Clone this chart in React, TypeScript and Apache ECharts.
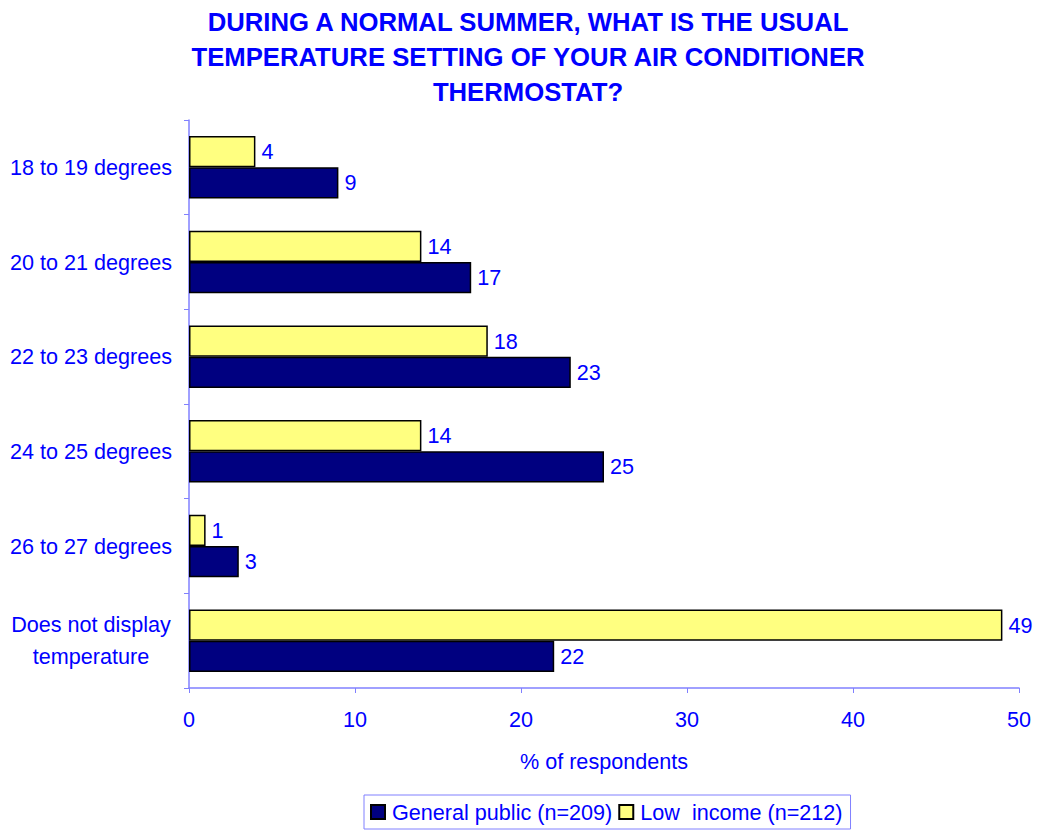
import React, { useEffect, useRef } from "react";
import * as echarts from "echarts";

const categories = [
  "18 to 19 degrees",
  "20 to 21 degrees",
  "22 to 23 degrees",
  "24 to 25 degrees",
  "26 to 27 degrees",
  "Does not display\ntemperature",
];
const generalPublic = [9, 17, 23, 25, 3, 22];
const lowIncome = [4, 14, 18, 14, 1, 49];
const seriesNames = ["General public (n=209)", "Low  income (n=212)"];
const xTicks = { min: 0, max: 50, interval: 10 };
const titleText =
  "DURING A NORMAL SUMMER, WHAT IS THE USUAL\nTEMPERATURE SETTING OF YOUR AIR CONDITIONER\nTHERMOSTAT?";
const xAxisName = "% of respondents";

const FONT = "'Liberation Sans', Arial, sans-serif";
const BLUE = "#0000ff";
const AXIS = "#8080ff";
const FS = 21.6;

export default function App() {
  const ref = useRef<HTMLDivElement>(null);
  useEffect(() => {
    if (!ref.current) return;
    const chart = echarts.init(ref.current, null, { renderer: "svg" });
    const labelStyle = {
      show: true,
      position: "right",
      distance: 6,
      color: BLUE,
      fontSize: FS,
      fontFamily: FONT,
    };
    chart.setOption({
      animation: false,
      backgroundColor: "#ffffff",
      textStyle: { fontFamily: FONT },
      title: {
        text: titleText,
        left: 523,
        textAlign: "center",
        top: -1,
        textStyle: {
          color: BLUE,
          fontSize: 25.7,
          fontWeight: "bold",
          fontFamily: FONT,
          lineHeight: 35,
        },
      },
      legend: {
        left: 364,
        top: 795,
        orient: "horizontal",
        data: seriesNames,
        itemWidth: 14,
        itemHeight: 14,
        itemGap: 6,
        padding: [6, 8, 6, 6],
        borderColor: AXIS,
        borderWidth: 1,
        icon: "rect",
        textStyle: { color: BLUE, fontSize: FS, fontFamily: FONT, padding: [0, 0, 0, 2] },
      },
      grid: { left: 189, right: 20, top: 120, bottom: 145, containLabel: false },
      xAxis: {
        type: "value",
        min: xTicks.min,
        max: xTicks.max,
        interval: xTicks.interval,
        name: xAxisName,
        nameLocation: "middle",
        nameGap: 62,
        nameTextStyle: { color: BLUE, fontSize: FS, fontFamily: FONT },
        axisLine: { show: true, lineStyle: { color: AXIS, width: 1.5 } },
        axisTick: { show: true, length: 5, lineStyle: { color: AXIS } },
        axisLabel: { color: BLUE, fontSize: FS, fontFamily: FONT, margin: 20 },
        splitLine: { show: false },
      },
      yAxis: {
        type: "category",
        inverse: true,
        data: categories,
        axisLine: { show: true, lineStyle: { color: AXIS, width: 1.5 } },
        axisTick: { show: true, length: 5, lineStyle: { color: AXIS } },
        axisLabel: {
          color: BLUE,
          fontSize: FS,
          fontFamily: FONT,
          margin: 17,
          lineHeight: 32,
          formatter: (v: string) => {
            if (v.indexOf("\n") < 0) return v;
            const parts = v.split("\n");
            return "{a|" + parts[0] + "}\n{b|" + parts[1] + "}";
          },
          rich: {
            a: {
              width: 162,
              align: "center",
              color: BLUE,
              fontSize: FS,
              fontFamily: FONT,
              lineHeight: 32,
            },
            b: {
              width: 136,
              align: "center",
              color: BLUE,
              fontSize: FS,
              fontFamily: FONT,
              lineHeight: 32,
            },
          },
        },
      },
      series: [
        {
          name: seriesNames[1],
          type: "bar",
          data: lowIncome,
          barGap: "0%",
          barCategoryGap: "34%",
          itemStyle: { color: "#ffff80", borderColor: "#000000", borderWidth: 1.5 },
          label: labelStyle,
        },
        {
          name: seriesNames[0],
          type: "bar",
          data: generalPublic,
          barGap: "0%",
          barCategoryGap: "34%",
          itemStyle: { color: "#000080", borderColor: "#000000", borderWidth: 1.5 },
          label: labelStyle,
        },
      ],
    });
    return () => chart.dispose();
  }, []);
  return (
    <div
      ref={ref}
      style={{ position: "fixed", left: 0, top: 0, width: 1039, height: 833 }}
    />
  );
}
